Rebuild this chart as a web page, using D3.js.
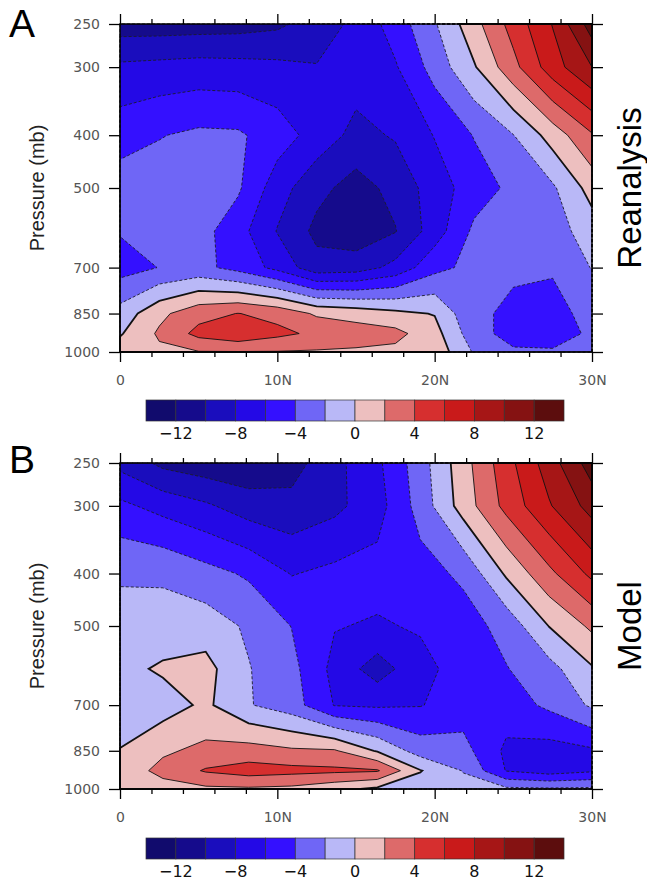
<!DOCTYPE html>
<html lang="en">
<head>
<meta charset="UTF-8">
<title>Pressure-latitude sections</title>
<script src="https://cdn.jsdelivr.net/npm/d3@7"></script>
<style>
  body { margin: 0; background: #fff; }
</style>
</head>
<body>
<div id="chart"></div>
<script>
// grid rows (pressure, top to bottom) and columns (latitude)
var pressureLevels = [250, 300, 400, 500, 600, 700, 850, 925, 1000];
var latsReanalysis = [0, 2.5, 5, 7.5, 10, 12.5, 15, 17.5, 20, 22.5, 25, 27.5, 30];
var latsModel = [0, 2.73, 5.45, 8.18, 10.91, 13.64, 16.36, 19.09, 21.82, 24.55, 27.27, 30];

// panel A values, one row per pressure level
var reanalysis = [
  [-11, -11, -10.9, -10.8, -10.4, -9.1, -7.5, -5.1, -2.2, 1.3, 4.8, 8.1, 13],
  [-7.6, -7.4, -7.2, -7.3, -7.5, -7.9, -7.0, -6.2, -3.2, -0.2, 3.4, 7.1, 10],
  [-4.85, -4.1, -3.6, -3.7, -5.0, -6.8, -8.6, -7.8, -5.9, -3.9, -2.05, 0.9, 3.8],
  [-3.0, -3.0, -3.1, -3.7, -7.1, -9.4, -10.8, -9.4, -7.0, -5.0, -3.5, -2.3, 0.8],
  [-3.86, -3.3, -3.2, -5.2, -8.1, -10.5, -11.2, -10.1, -7.0, -3.6, -3.0, -2.9, -1.0],
  [-4.8, -3.95, -3.4, -4.7, -6.6, -9.3, -9.0, -7.4, -4.6, -3.4, -3.85, -3.85, -1.9],
  [-1.23, 1.5, 3.3, 4.05, 3.4, 1.7, 1.2, 0.5, -0.1, -3.8, -4.2, -4.5, -3.5],
  [-0.2, 2.3, 4.6, 5.6, 4.5, 3.6, 3.0, 2.59, 0.75, -3.2, -4.8, -4.8, -3.7],
  [1.0, 1.6, 1.9, 1.9, 1.9, 1.8, 1.7, 1.5, 1.3, -2.2, -3.7, -3.8, -3.3]
];

// panel B values
var model = [
  [-8.6, -10.5, -11.2, -11.5, -10.8, -8.6, -6.4, -2.9, 1.2, 5.2, 9.0, 13.0],
  [-5.55, -6.7, -7.7, -9.0, -9.4, -8.5, -6.8, -3.2, 0.9, 4.6, 7.8, 10.8],
  [-2.2, -2.3, -3.3, -4.3, -6.1, -5.5, -5.3, -4.8, -3.6, 0.3, 3.5, 6.5],
  [-1.4, -1.2, -1.0, -2.3, -4.05, -5.9, -6.2, -5.8, -4.9, -3.3, 0.05, 2.4],
  [-0.6, 0.3, 0.67, -1.9, -3.4, -6.6, -9.0, -6.6, -5.2, -4.1, -2.7, -0.2],
  [-0.8, -0.93, 0.4, -1.86, -3.1, -6.1, -6.3, -6.1, -5.0, -5.0, -3.6, -1.7],
  [0.05, 1.7, 2.5, 2.8, 2.3, 2.2, -0.2, -2.9, -3.3, -6.4, -6.8, -6.3],
  [0.8, 2.6, 4.2, 4.9, 4.6, 4.4, 4.2, 0.1, -2.1, -6.1, -7.0, -6.3],
  [0.9, 1.2, 1.6, 1.7, 1.5, 0.6, -0.4, -1.0, -1.3, -1.6, -1.7, -1.6]
];

var contourLevels = [-12, -10, -8, -6, -4, -2, 0, 2, 4, 6, 8, 10, 12];
var fillColors = ["#110b6d", "#150b8c", "#1a0dbd", "#2409e6", "#3410ff", "#6f66f6", "#b9b8f7",
                  "#edbfbf", "#dd6a6a", "#d62f2f", "#c91a1a", "#a61616", "#851212", "#5c0d0d"];
var barLabels = [-12, -8, -4, 0, 4, 8, 12];
var pressureTicks = [250, 300, 400, 500, 700, 850, 1000];
var latMajor = [0, 10, 20, 30];
var latLabels = ["0", "10N", "20N", "30N"];
var latMinor = [2, 4, 6, 8, 12, 14, 16, 18, 22, 24, 26, 28];

var svg = d3.select("#chart").append("svg")
  .attr("width", 647)
  .attr("height", 882);

var x = d3.scaleLinear().domain([0, 30]).range([120, 592]);
var bar = d3.scaleLinear().domain([-14, 14]).range([146, 564]);

function drawPanel(p) {
  var y = d3.scaleLog().domain([250, 1000]).range([p.top, p.bottom]);
  var lats = p.lats, nx = lats.length, ny = pressureLevels.length;

  // d3.contours puts sample i at i+0.5; map that back through the scales
  function gridX(gx) {
    var k = Math.max(0, Math.min(nx - 1, gx - 0.5));
    var i = Math.min(nx - 2, Math.floor(k)), t = k - i;
    return x(lats[i] + t * (lats[i + 1] - lats[i]));
  }
  function gridY(gy) {
    var k = Math.max(0, Math.min(ny - 1, gy - 0.5));
    var j = Math.min(ny - 2, Math.floor(k)), t = k - j;
    var y0 = y(pressureLevels[j]), y1 = y(pressureLevels[j + 1]);
    return y0 + t * (y1 - y0);
  }
  var path = d3.geoPath(d3.geoTransform({
    point: function(px, py) { this.stream.point(gridX(px), gridY(py)); }
  }));

  var contours = d3.contours()
    .size([nx, ny])
    .thresholds(contourLevels)(p.data.flat());

  var g = svg.append("g");
  g.append("rect")
    .attr("x", 120).attr("y", p.top)
    .attr("width", 472).attr("height", p.bottom - p.top)
    .attr("fill", fillColors[0]);

  g.selectAll(".band").data(contours).enter().append("path")
    .attr("class", "band")
    .attr("d", path)
    .attr("fill", function(d, i) { return fillColors[i + 1]; });

  g.selectAll(".cline").data(contours).enter().append("path")
    .attr("class", "cline")
    .attr("d", path)
    .attr("fill", "none")
    .attr("stroke", function(d) { return d.value < 0 ? "#1c1c2a" : "#111"; })
    .attr("stroke-width", function(d) { return d.value === 0 ? 1.8 : 0.9; })
    .attr("stroke-dasharray", function(d) { return d.value < 0 ? "3,2" : null; });

  // frame
  svg.append("rect")
    .attr("x", 120).attr("y", p.top)
    .attr("width", 472).attr("height", p.bottom - p.top)
    .attr("fill", "none").attr("stroke", "#000").attr("stroke-width", 1.5);

  function styleAxis(a) {
    a.select(".domain").remove();
    a.selectAll("line").attr("stroke", "#000").attr("stroke-width", 1.3);
    a.selectAll("text")
      .attr("font-family", "DejaVu Sans, sans-serif")
      .attr("font-size", 14)
      .attr("fill", "#555");
  }

  svg.append("g").attr("transform", "translate(0," + p.bottom + ")")
    .call(d3.axisBottom(x).tickValues(latMajor).tickSize(10).tickPadding(13)
      .tickFormat(function(d, i) { return latLabels[i]; }))
    .call(styleAxis);
  svg.append("g").attr("transform", "translate(0," + p.bottom + ")")
    .call(d3.axisBottom(x).tickValues(latMinor).tickSize(5).tickFormat(""))
    .call(styleAxis);
  svg.append("g").attr("transform", "translate(0," + p.top + ")")
    .call(d3.axisTop(x).tickValues(latMajor).tickSize(10).tickFormat(""))
    .call(styleAxis);
  svg.append("g").attr("transform", "translate(0," + p.top + ")")
    .call(d3.axisTop(x).tickValues(latMinor).tickSize(5).tickFormat(""))
    .call(styleAxis);
  svg.append("g").attr("transform", "translate(120,0)")
    .call(d3.axisLeft(y).tickValues(pressureTicks).tickSize(11).tickPadding(9)
      .tickFormat(d3.format("d")))
    .call(styleAxis);
  svg.append("g").attr("transform", "translate(592,0)")
    .call(d3.axisRight(y).tickValues(pressureTicks).tickSize(11).tickFormat(""))
    .call(styleAxis);

  var mid = (p.top + p.bottom) / 2;
  svg.append("text")
    .attr("transform", "translate(44," + mid + ") rotate(-90)")
    .attr("text-anchor", "middle")
    .attr("font-family", "Liberation Sans, Arial, sans-serif")
    .attr("font-size", 20)
    .attr("fill", "#222")
    .text("Pressure (mb)");

  svg.append("text")
    .attr("transform", "translate(641," + mid + ") rotate(-90)")
    .attr("text-anchor", "middle")
    .attr("font-family", "Liberation Sans, Arial, sans-serif")
    .attr("font-size", 33)
    .attr("fill", "#000")
    .text(p.title);

  svg.append("text")
    .attr("x", 9).attr("y", p.letterY)
    .attr("font-family", "Liberation Sans, Arial, sans-serif")
    .attr("font-size", 39)
    .attr("fill", "#000")
    .text(p.letter);

  // colour bar
  var bounds = [-14].concat(contourLevels, [14]);
  svg.append("g").selectAll("rect").data(fillColors).enter().append("rect")
    .attr("x", function(d, i) { return bar(bounds[i]); })
    .attr("width", function(d, i) { return bar(bounds[i + 1]) - bar(bounds[i]); })
    .attr("y", p.barTop)
    .attr("height", 21)
    .attr("fill", function(d) { return d; })
    .attr("stroke", "#333")
    .attr("stroke-width", 0.7);

  svg.append("g").selectAll("text").data(barLabels).enter().append("text")
    .attr("x", function(d) { return bar(d); })
    .attr("y", p.barTop + 39)
    .attr("text-anchor", "middle")
    .attr("font-family", "DejaVu Sans, sans-serif")
    .attr("font-size", 16)
    .attr("fill", "#111")
    .text(d3.format("d"));
}

drawPanel({ data: reanalysis, lats: latsReanalysis, top: 24, bottom: 352,
            title: "Reanalysis", letter: "A", letterY: 37, barTop: 400 });
drawPanel({ data: model, lats: latsModel, top: 463, bottom: 789,
            title: "Model", letter: "B", letterY: 473, barTop: 838 });
</script>
</body>
</html>
